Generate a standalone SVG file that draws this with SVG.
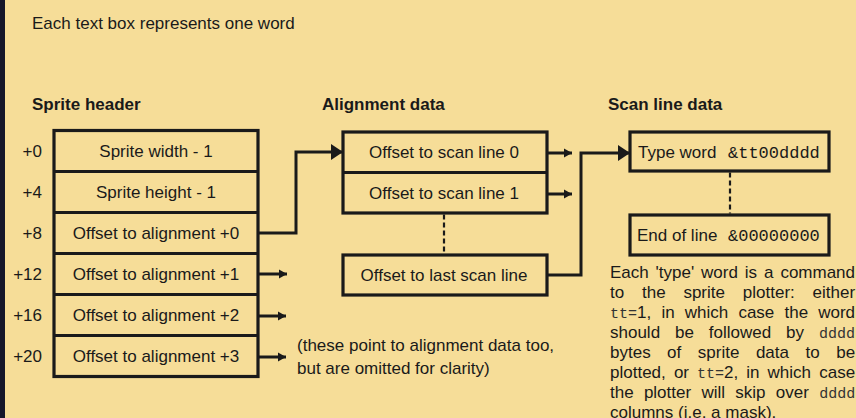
<svg xmlns="http://www.w3.org/2000/svg" width="856" height="418" viewBox="0 0 856 418">
  <style>
    text { font-family: "Liberation Sans", Arial, Helvetica, sans-serif; font-size: 17px; fill: #1a1a1a; }
    .b { font-weight: bold; }
    .c { text-anchor: middle; }
    .e { text-anchor: end; }
    .m { font-family: "Liberation Mono", "Courier New", monospace; }
    .mp { font-family: "Liberation Mono", "Courier New", monospace; font-size: 15px; fill: #333; }
    .box { fill: none; stroke: #1a1a1a; stroke-width: 3.2; stroke-linejoin: miter; }
    .div { stroke: #1a1a1a; stroke-width: 3.2; }
    .dash { stroke: #1a1a1a; stroke-width: 2.2; stroke-dasharray: 5 3; fill: none; }
    .con { fill: none; stroke: #1a1a1a; stroke-width: 3; }
  </style>
  <defs>
    <marker id="sa" markerUnits="userSpaceOnUse" markerWidth="8" markerHeight="10" refX="8" refY="5" orient="auto">
      <path d="M0,0.5 L8,5 L0,9.5 z" fill="#1a1a1a"/>
    </marker>
    <marker id="ba" markerUnits="userSpaceOnUse" markerWidth="12" markerHeight="18" refX="12" refY="9" orient="auto">
      <path d="M0,1 L12,9 L0,17 z" fill="#1a1a1a"/>
    </marker>
  </defs>

  <rect x="0" y="0" width="856" height="418" fill="#F6DD98"/>
  <rect x="0" y="0" width="5" height="418" fill="#16172a"/>

  <text x="32" y="29">Each text box represents one word</text>

  <text class="b" x="32" y="110">Sprite header</text>
  <text class="b" x="322" y="110">Alignment data</text>
  <text class="b" x="608" y="110">Scan line data</text>

  <g id="sprite-header">
    <rect class="box" x="54" y="130.5" width="204" height="246"/>
    <line class="div" x1="54" y1="171.5" x2="258" y2="171.5"/>
    <line class="div" x1="54" y1="212.5" x2="258" y2="212.5"/>
    <line class="div" x1="54" y1="253.5" x2="258" y2="253.5"/>
    <line class="div" x1="54" y1="294.5" x2="258" y2="294.5"/>
    <line class="div" x1="54" y1="335.5" x2="258" y2="335.5"/>
    <g id="sh-width">
      <text class="e" x="42" y="157">+0</text>
      <text class="c" x="156" y="157">Sprite width - 1</text>
    </g>
    <g id="sh-height">
      <text class="e" x="42" y="198">+4</text>
      <text class="c" x="156" y="198">Sprite height - 1</text>
    </g>
    <g id="sh-align0">
      <text class="e" x="42" y="239">+8</text>
      <text class="c" x="156" y="239">Offset to alignment +0</text>
    </g>
    <g id="sh-align1">
      <text class="e" x="42" y="280">+12</text>
      <text class="c" x="156" y="280">Offset to alignment +1</text>
    </g>
    <g id="sh-align2">
      <text class="e" x="42" y="321">+16</text>
      <text class="c" x="156" y="321">Offset to alignment +2</text>
    </g>
    <g id="sh-align3">
      <text class="e" x="42" y="362">+20</text>
      <text class="c" x="156" y="362">Offset to alignment +3</text>
    </g>
  </g>

  <g id="alignment-data">
    <rect class="box" x="343" y="132" width="204" height="81"/>
    <line class="div" x1="343" y1="172.5" x2="547" y2="172.5"/>
    <g id="ad-line0"><text class="c" x="444" y="158">Offset to scan line 0</text></g>
    <g id="ad-line1"><text class="c" x="444" y="198.5">Offset to scan line 1</text></g>
  </g>
  <g id="ad-last">
    <rect class="box" x="343" y="255" width="204" height="40"/>
    <text class="c" x="444" y="281">Offset to last scan line</text>
  </g>

  <g id="type-word">
    <rect class="box" x="630" y="132" width="199" height="39"/>
    <text x="638" y="157.5">Type word</text>
    <text class="m" x="728" y="157.5">&amp;tt00dddd</text>
  </g>
  <g id="end-of-line">
    <rect class="box" x="630" y="215" width="199" height="40"/>
    <text x="637" y="240.5">End of line</text>
    <text class="m" x="728" y="240.5">&amp;00000000</text>
  </g>

  <g id="connectors">
    <polyline class="con" points="258,233 296,233 296,152 343,152" marker-end="url(#ba)"/>
    <polyline class="con" points="547,275 581,275 581,153 630,153" marker-end="url(#ba)"/>
    <line class="con" x1="258" y1="274" x2="287" y2="274" marker-end="url(#sa)"/>
    <line class="con" x1="258" y1="316" x2="286" y2="316" marker-end="url(#sa)"/>
    <line class="con" x1="258" y1="357" x2="286" y2="357" marker-end="url(#sa)"/>
    <line class="con" x1="547" y1="153" x2="572" y2="153" marker-end="url(#sa)"/>
    <line class="con" x1="547" y1="194" x2="572" y2="194" marker-end="url(#sa)"/>
    <line class="dash" x1="444" y1="214.5" x2="444" y2="253.5"/>
    <line class="dash" x1="730" y1="172.5" x2="730" y2="213.5"/>
  </g>

  <g id="omitted-note">
    <text x="297" y="351">(these point to alignment data too,</text>
    <text x="297" y="373.5">but are omitted for clarity)</text>
  </g>

  <g id="type-note">
    <text y="277.5"><tspan x="610">Each</tspan><tspan x="655.6">'type'</tspan><tspan x="701.1">word</tspan><tspan x="744.8">is</tspan><tspan x="764">a</tspan><tspan x="780.4">command</tspan></text>
    <text y="297.5"><tspan x="610">to</tspan><tspan x="642">the</tspan><tspan x="683.4">sprite</tspan><tspan x="742.8">plotter:</tspan><tspan x="812.6">either</tspan></text>
    <text y="317.5"><tspan x="610" class="mp">tt=</tspan><tspan>1,</tspan><tspan x="661.4">in</tspan><tspan x="684.7">which</tspan><tspan x="738.4">case</tspan><tspan x="784.5">the</tspan><tspan x="818.2">word</tspan></text>
    <text y="337.5"><tspan x="610">should</tspan><tspan x="675">be</tspan><tspan x="708.8">followed</tspan><tspan x="786.1">by</tspan><tspan x="819" class="mp">dddd</tspan></text>
    <text y="357.5"><tspan x="610">bytes</tspan><tspan x="667.1">of</tspan><tspan x="697.8">sprite</tspan><tspan x="755.9">data</tspan><tspan x="805.5">to</tspan><tspan x="836.2">be</tspan></text>
    <text y="377.5"><tspan x="610">plotted,</tspan><tspan x="673.9">or</tspan><tspan x="697" class="mp">tt=</tspan><tspan>2,</tspan><tspan x="746.3">in</tspan><tspan x="767.6">which</tspan><tspan x="819.2">case</tspan></text>
    <text y="397.5"><tspan x="610">the</tspan><tspan x="643.9">plotter</tspan><tspan x="701.4">will</tspan><tspan x="735.3">skip</tspan><tspan x="775.8">over</tspan><tspan x="819.2" class="mp">dddd</tspan></text>
    <text x="610" y="417.5">columns (i.e. a mask).</text>
  </g>
</svg>
